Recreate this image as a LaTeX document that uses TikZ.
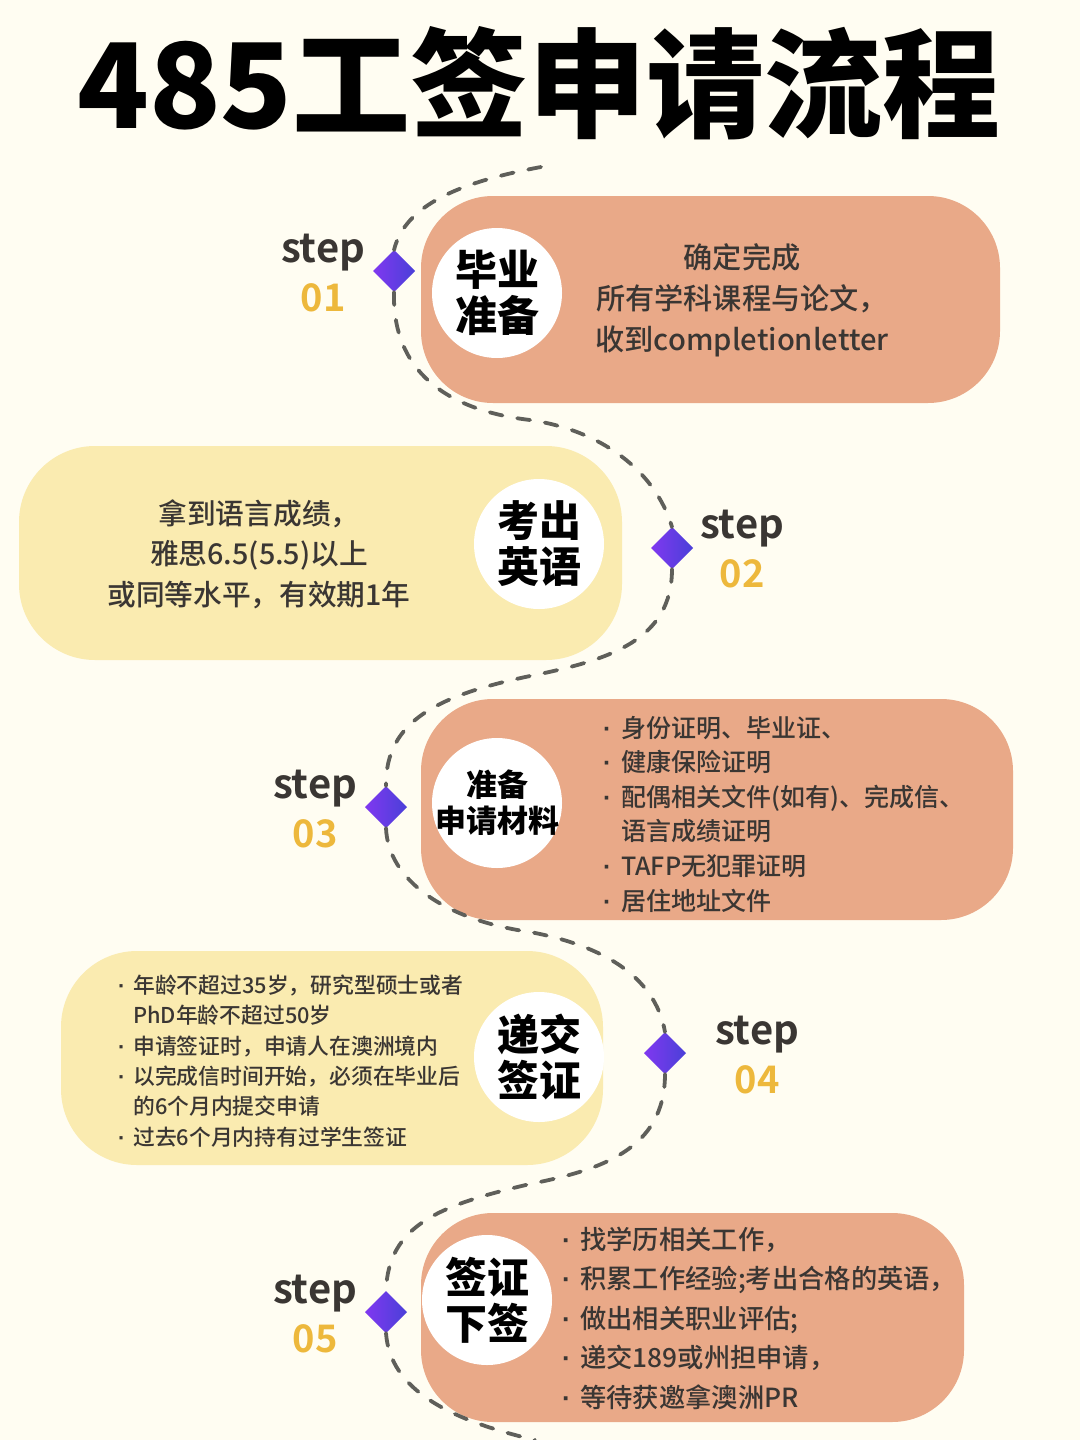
\documentclass[tikz,border=0pt]{standalone}
\usepackage{fontspec}
\usetikzlibrary{positioning,shapes.geometric}
\setmainfont{Noto Sans CJK SC}
\newfontfamily\heavyfont{Noto Sans CJK SC Black}
\newfontfamily\mediumfont{Noto Sans CJK SC Medium}
\newfontfamily\stepfont{Noto Sans CJK SC Bold}
\newfontfamily\dotfont{Liberation Sans}
\definecolor{pagebg}{HTML}{FFFDF2}
\definecolor{peach}{HTML}{E9A988}
\definecolor{butter}{HTML}{FAEBB0}
\definecolor{inkgrey}{HTML}{3A3633}
\definecolor{pathgrey}{HTML}{5F5F5A}
\definecolor{numgold}{HTML}{EDB83C}
\definecolor{gemleft}{HTML}{8038F0}
\definecolor{gemright}{HTML}{4A40D8}
\newcommand{\dotmark}[1][18pt]{\makebox[#1][l]{\dotfont\bfseries ·}}
\newcommand{\dotgap}[1][18pt]{\hspace*{#1}}
\tikzset{
  disc/.style = {circle, fill=white, minimum size=130pt, inner sep=0pt, align=center, text=black},
  gem/.style = {diamond, minimum width=42pt, minimum height=42pt, inner sep=0pt, outer sep=0pt, left color=gemleft, right color=gemright},
  steptag/.style = {inner sep=0pt, text=inkgrey, font=\stepfont\fontsize{40}{40}\selectfont},
  stepnum/.style = {inner sep=0pt, text=numgold, font=\stepfont\fontsize{38}{38}\selectfont},
  route/.style = {draw=pathgrey, line width=3.8pt, line cap=round, dash pattern=on 13pt off 15pt}
}

\begin{document}
\begin{tikzpicture}[
    x=1pt, y=-1pt,
    every node/.style={node distance=12pt},
    ]
\path[fill=pagebg, use as bounding box] (0,0) rectangle (1080,1440);

\node [inner sep=0pt, font=\heavyfont\fontsize{118}{118}\selectfont] (title) at (539,83) {485工签申请流程};

% cards
\fill [peach, rounded corners=72pt] (421,196) rectangle (1000,403);
\fill [butter, rounded corners=76pt] (19,446) rectangle (622,660);
\fill [peach, rounded corners=72pt] (421,699) rectangle (1013,920);
\fill [butter, rounded corners=76pt] (61,951) rectangle (603,1165);
\fill [peach, rounded corners=72pt] (421,1213) rectangle (964,1422);

\node [disc, font=\heavyfont\fontsize{42}{46}\selectfont] (disc1) at (497,293) {毕业\\准备};
\node [disc, font=\heavyfont\fontsize{42}{46}\selectfont] (disc2) at (539,544) {考出\\英语};
\node [disc, inner sep=-14pt, font=\heavyfont\fontsize{31}{36}\selectfont] (disc3) at (497,803) {准备\\申请材料};
\node [disc, font=\heavyfont\fontsize{42}{46}\selectfont] (disc4) at (539,1057) {递交\\签证};
\node [disc, font=\heavyfont\fontsize{42}{46}\selectfont] (disc5) at (487,1300) {签证\\下签};

% texts
\node [align=center, inner sep=0pt, text=inkgrey, font=\mediumfont\fontsize{29.2}{41}\selectfont] (text1) at (742,300) {确定完成\\所有学科课程与论文，\\收到completionletter};
\node [align=center, inner sep=0pt, text=inkgrey, font=\mediumfont\fontsize{28.7}{40.5}\selectfont] (text2) at (259,554) {拿到语言成绩，\\雅思6.5(5.5)以上\\或同等水平，有效期1年};
\node [align=left, anchor=west, inner sep=0pt, text=inkgrey, font=\mediumfont\fontsize{25}{34.6}\selectfont] (text3) at (603,814) {\dotmark 身份证明、毕业证、\\\dotmark 健康保险证明\\\dotmark 配偶相关文件(如有)、完成信、\\\dotgap 语言成绩证明\\\dotmark TAFP无犯罪证明\\\dotmark 居住地址文件};
\node [align=left, anchor=west, inner sep=0pt, text=inkgrey, font=\mediumfont\fontsize{21.8}{30.4}\selectfont] (text4) at (118,1061) {\dotmark[15pt]年龄不超过35岁，研究型硕士或者\\\dotgap[15pt]PhD年龄不超过50岁\\\dotmark[15pt]申请签证时，申请人在澳洲境内\\\dotmark[15pt]以完成信时间开始，必须在毕业后\\\dotgap[15pt]的6个月内提交申请\\\dotmark[15pt]过去6个月内持有过学生签证};
\node [align=left, anchor=west, inner sep=0pt, text=inkgrey, font=\mediumfont\fontsize{26.3}{39.5}\selectfont] (text5) at (562,1318) {\dotmark 找学历相关工作，\\\dotmark 积累工作经验;考出合格的英语，\\\dotmark 做出相关职业评估;\\\dotmark 递交189或州担申请，\\\dotmark 等待获邀拿澳洲PR};

% steps
\node [gem] (gem1) at (394,271) {};
\node [gem] (gem2) at (672,548) {};
\node [gem] (gem3) at (386,807) {};
\node [gem] (gem4) at (665,1053) {};
\node [gem] (gem5) at (386,1312) {};

\node [steptag] (tag1) at (323,253) {step};
\node [stepnum, below=of tag1] (num1) {01};
\node [steptag] (tag2) at (742,529) {step};
\node [stepnum, below=of tag2] (num2) {02};
\node [steptag] (tag3) at (315,789) {step};
\node [stepnum, below=of tag3] (num3) {03};
\node [steptag] (tag4) at (757,1035) {step};
\node [stepnum, below=of tag4] (num4) {04};
\node [steptag] (tag5) at (315,1294) {step};
\node [stepnum, below=of tag5] (num5) {05};

\coordinate (routetop) at (541,167);
\coordinate (bend1) at (530,420);
\coordinate (bend2) at (530,676);
\coordinate (bend3) at (530,932);
\coordinate (bend4) at (530,1184);
\coordinate (routeend) at (535,1440);

\draw [route] (routetop) .. controls (460,182) and (405,205) .. (gem1.north);
\draw [route] (gem1.south) .. controls (392,370) and (445,410) .. (bend1) .. controls (600,430) and (655,470) .. (gem2.north);
\draw [route] (gem2.south) .. controls (672,640) and (610,660) .. (bend2) .. controls (440,695) and (385,720) .. (gem3.north);
\draw [route] (gem3.south) .. controls (388,880) and (445,920) .. (bend3) .. controls (600,945) and (655,975) .. (gem4.north);
\draw [route] (gem4.south) .. controls (665,1150) and (600,1170) .. (bend4) .. controls (440,1205) and (388,1225) .. (gem5.north);
\draw [route] (gem5.south) .. controls (390,1390) and (450,1420) .. (routeend);

\end{tikzpicture}
\end{document}
